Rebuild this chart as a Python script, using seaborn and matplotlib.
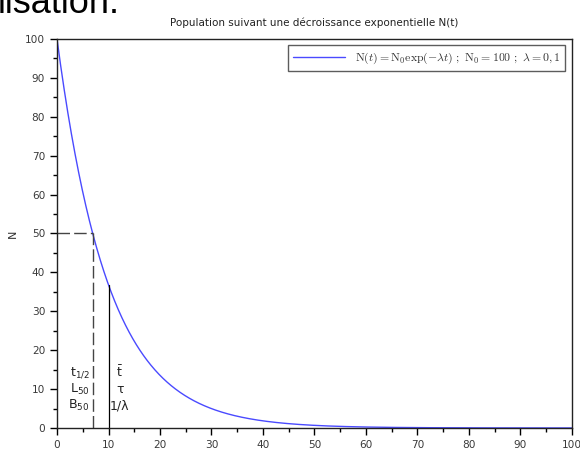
import numpy as np
import pandas as pd
import matplotlib
matplotlib.use("Agg")
import matplotlib.pyplot as plt
from matplotlib.ticker import MultipleLocator
import seaborn as sns

# Data
N0 = 100
lam = 0.1
t_values = np.linspace(0, 100, 1001)
n_values = N0 * np.exp(-lam * t_values)
t_half = np.log(2) / lam
tau = 1 / lam
title = "Population suivant une décroissance exponentielle N(t)"
legend_label = r"$\mathrm{N}(t) = \mathrm{N}_0\exp(-\lambda t)\ ;\ \mathrm{N}_0 = 100\ ;\ \lambda = 0,1$"
x_ticks = [0, 10, 20, 30, 40, 50, 60, 70, 80, 90, 100]
y_ticks = [0, 10, 20, 30, 40, 50, 60, 70, 80, 90, 100]
left_labels = [r"t$_{1/2}$", r"L$_{50}$", r"B$_{50}$"]
right_labels = [r"$\bar{\mathrm{t}}$", "τ", "1/λ"]

sns.set_style("white")
plt.rcParams['font.family'] = ['DejaVu Sans']
plt.rcParams['mathtext.fontset'] = 'dejavusans'

fig = plt.figure(figsize=(5.8, 4.57), dpi=100)
ax = fig.add_axes([0.0983, 0.0635, 0.8877, 0.8512])

df = pd.DataFrame({"t": t_values, "N": n_values})
sns.lineplot(data=df, x="t", y="N", ax=ax, color="#4a4aff", linewidth=1.0,
             label=legend_label)

ax.plot([0, t_half], [50, 50], color="#444444", linestyle=(0, (9, 3)), linewidth=1.0)
ax.plot([t_half, t_half], [0, 50], color="#444444", linestyle=(0, (9, 3)), linewidth=1.0)
ax.plot([tau, tau], [0, N0 * np.exp(-lam * tau)], color="black", linewidth=0.9)

ys = [14.3, 10.0, 5.7]
for lbl, y in zip(left_labels, ys):
    ax.text(6.3, y, lbl, ha="right", va="center", fontsize=9, color="#222222")
for lbl, y in zip(right_labels, ys):
    ax.text(12.2, y, lbl, ha="center", va="center", fontsize=9, color="#222222")

ax.set_xlim(0, 100)
ax.set_ylim(0, 100)
ax.set_xticks(x_ticks)
ax.set_yticks(y_ticks)
ax.xaxis.set_minor_locator(MultipleLocator(5))
ax.yaxis.set_minor_locator(MultipleLocator(5))
ax.tick_params(axis="both", which="major", direction="out", length=5, width=1,
               color="black", labelsize=7.6, labelcolor="#3a3a3a",
               bottom=True, left=True, top=False, right=False)
ax.tick_params(axis="both", which="minor", direction="out", length=3, width=1,
               color="black", bottom=True, left=True, top=False, right=False)
for s in ax.spines.values():
    s.set_color("#222222")
    s.set_linewidth(1.0)

ax.set_title(title, fontsize=7.5, color="#222222", pad=9)
ax.set_ylabel("N", fontsize=8, color="#333333", labelpad=5)
ax.set_xlabel("t", fontsize=8, color="#333333", labelpad=10)

with plt.rc_context({'mathtext.fontset': 'cm'}):
    leg = ax.legend(loc="upper right", fontsize=8.5, frameon=True, fancybox=False,
                    edgecolor="#333333", borderaxespad=0.55, handlelength=4.4,
                    borderpad=0.45)
for txt in leg.get_texts():
    txt.set_color("#333333")
leg.get_frame().set_linewidth(1.0)

fig.text(-0.004, 1 - 13 / 457, "lisation.", fontsize=26, family="Liberation Sans",
         color="black", ha="left", va="baseline")

fig.savefig("out.png", dpi=100)
